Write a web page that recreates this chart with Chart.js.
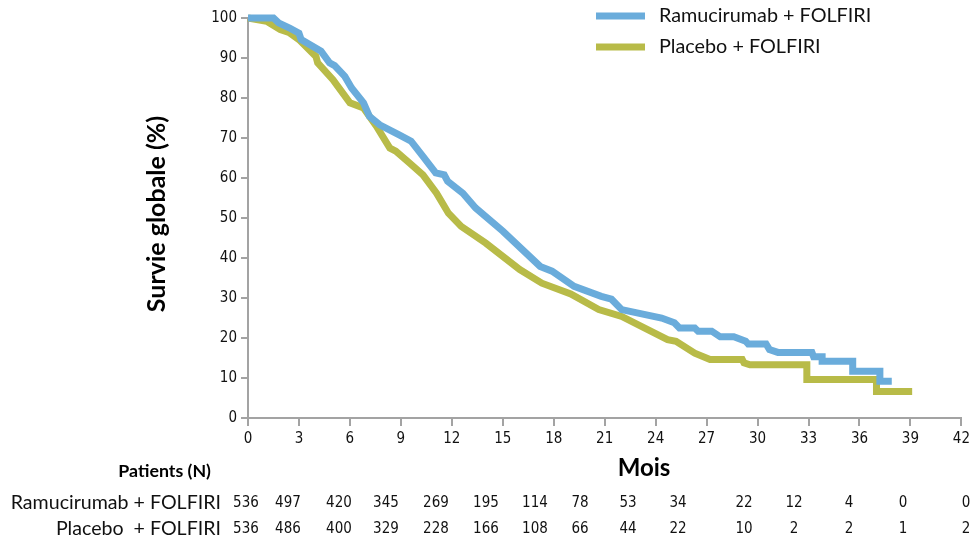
<!DOCTYPE html>
<html>
<head>
<meta charset="utf-8">
<script src="https://cdn.jsdelivr.net/npm/chart.js@4.4.1/dist/chart.umd.min.js"></script>
<style>
  html, body { margin: 0; padding: 0; background: #fff; }
  #wrap { width: 974px; height: 541px; }
</style>
</head>
<body>
<div id="wrap"><canvas id="survChart" width="974" height="541"></canvas></div>
<script>
// Données (mois, survie globale %)
const ramMonths = [0, 1.5, 1.8, 2.45, 3.0, 3.13, 4.3, 4.8, 5.1, 5.7, 6.1, 6.8, 7.15, 7.75, 8.9, 9.6, 10.3, 11.05, 11.55, 11.75, 12.65, 13.4, 15.0, 17.2, 17.9, 19.2, 20.8, 21.4, 22.0, 24.35, 25.1, 25.4, 26.3, 26.5, 27.3, 27.8, 28.6, 29.3, 29.45, 30.5, 30.7, 31.2, 33.2, 33.3, 33.8, 33.8, 35.6, 35.6, 37.2, 37.2, 37.9];
const ramSurv = [100, 100, 98.8, 97.5, 96.2, 94.6, 91.7, 88.8, 88.1, 85.4, 82.5, 78.8, 75.4, 73.3, 70.8, 69.2, 65.4, 61.3, 60.8, 59.2, 56.2, 52.5, 46.7, 37.9, 36.7, 32.9, 30.4, 29.7, 27.1, 25.0, 23.8, 22.5, 22.5, 21.7, 21.7, 20.3, 20.3, 19.2, 18.5, 18.5, 17.1, 16.4, 16.4, 15.3, 15.3, 14.2, 14.2, 11.7, 11.7, 9.2, 9.2];

const plaMonths = [0, 1.1, 1.9, 2.45, 3.0, 4.0, 4.1, 5.0, 6.0, 6.8, 7.55, 8.35, 8.7, 9.5, 10.3, 11.1, 11.8, 12.55, 14.0, 16.0, 17.3, 19.0, 20.65, 22.0, 24.7, 25.2, 26.3, 27.2, 29.1, 29.2, 29.55, 32.9, 32.9, 37.0, 37.0, 39.1];
const plaSurv = [100, 99.2, 97.1, 96.3, 94.6, 90.4, 88.8, 84.6, 78.8, 77.5, 73.0, 67.5, 66.7, 63.8, 60.8, 56.2, 51.2, 47.9, 43.7, 37.1, 33.7, 31.0, 27.1, 25.4, 19.6, 19.2, 16.2, 14.6, 14.6, 13.8, 13.3, 13.3, 9.6, 9.6, 6.6, 6.6];

// Patients à risque
const riskRam = [536, 497, 420, 345, 269, 195, 114, 78, 53, 34, 22, 12, 4, 0, 0];
const riskPla = [536, 486, 400, 329, 228, 166, 108, 66, 44, 22, 10, 2, 2, 1, 2];

const seriesLabels = ['Ramucirumab + FOLFIRI', 'Placebo + FOLFIRI'];
const riskLabels = ['Ramucirumab + FOLFIRI', 'Placebo  + FOLFIRI'];

const blue = '#6aacdb';
const green = '#b8bb48';
const axisGray = '#a3a3a3';
const narrow = '"Liberation Sans Narrow", "DejaVu Sans Condensed", sans-serif';
const textFont = 'Lato, "Noto Sans", sans-serif';

// colonnes du tableau (px)
const riskColX = [246, 288, 339, 386, 436, 486, 535, 580, 628, 678, 744, 794, 849, 903, 966];

function toPoints(xs, ys) {
  return xs.map((x, i) => ({ x: x, y: ys[i] }));
}

// Titres, légende et tableau des patients
const extras = {
  id: 'extras',
  afterDraw(chart) {
    const c = chart.ctx;
    c.save();
    // légende
    const legendY = [16, 47];
    [blue, green].forEach((col, i) => {
      c.fillStyle = col;
      c.fillRect(596, legendY[i] - 3.5, 49, 7);
      c.fillStyle = '#111';
      c.font = '19.8px ' + textFont;
      c.textAlign = 'left';
      c.textBaseline = 'middle';
      c.fillText(seriesLabels[i], 659, legendY[i]);
    });
    // titre axe y
    c.save();
    c.translate(157, 214);
    c.rotate(-Math.PI / 2);
    c.font = 'bold 25px ' + textFont;
    c.textAlign = 'center';
    c.textBaseline = 'middle';
    c.fillStyle = '#000';
    c.fillText('Survie globale (%)', 0, 0);
    c.restore();
    // titre axe x
    c.font = 'bold 24px ' + textFont;
    c.textAlign = 'center';
    c.textBaseline = 'middle';
    c.fillStyle = '#000';
    c.fillText('Mois', 644, 468);
    // tableau
    c.font = 'bold 17.8px ' + textFont;
    c.textAlign = 'right';
    c.fillText('Patients (N)', 211, 471);
    const rowY = [503, 529];
    [riskRam, riskPla].forEach((row, r) => {
      c.font = '19.6px ' + textFont;
      c.textAlign = 'right';
      c.fillStyle = '#111';
      c.fillText(riskLabels[r], 221, rowY[r]);
      c.font = '15px ' + narrow;
      c.textAlign = 'center';
      row.forEach((n, i) => c.fillText(String(n), riskColX[i], rowY[r]));
    });
    c.restore();
  }
};

const ctx = document.getElementById('survChart').getContext('2d');
const survChart = new Chart(ctx, {
  type: 'line',
  data: {
    datasets: [{
      label: seriesLabels[0],
      data: toPoints(ramMonths, ramSurv),
      borderColor: blue,
      borderWidth: 7,
      pointRadius: 0,
      tension: 0,
      borderJoinStyle: 'miter',
      clip: false,
      order: 0
    }, {
      label: seriesLabels[1],
      data: toPoints(plaMonths, plaSurv),
      borderColor: green,
      borderWidth: 7,
      pointRadius: 0,
      tension: 0,
      borderJoinStyle: 'miter',
      clip: false,
      order: 1
    }]
  },
  options: {
    responsive: false,
    animation: false,
    layout: { padding: { left: 0, right: 12, top: 18, bottom: 83 } },
    plugins: {
      legend: { display: false },
      tooltip: { enabled: false }
    },
    scales: {
      x: {
        type: 'linear',
        min: 0,
        max: 42,
        afterFit(scale) { scale.height = 40; },
        ticks: { stepSize: 3, color: '#111', font: { size: 15, family: narrow }, padding: 4, maxRotation: 0 },
        grid: { drawOnChartArea: false, drawTicks: true, tickLength: 8, color: axisGray, lineWidth: 2 },
        border: { color: axisGray, width: 2 }
      },
      y: {
        min: 0,
        max: 100,
        afterFit(scale) { scale.width = 248; },
        ticks: { stepSize: 10, color: '#111', font: { size: 15, family: narrow }, padding: 4 },
        grid: { drawOnChartArea: false, drawTicks: true, tickLength: 7, color: axisGray, lineWidth: 2 },
        border: { color: axisGray, width: 2 }
      }
    }
  },
  plugins: [extras]
});
</script>
</body>
</html>
